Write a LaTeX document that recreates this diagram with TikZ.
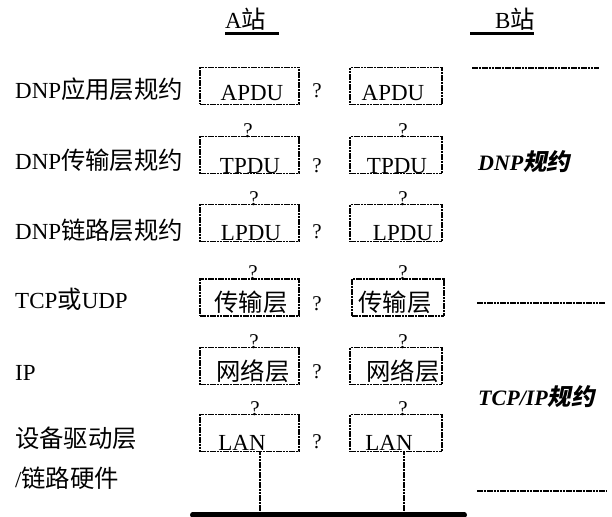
\documentclass[tikz,border=0pt]{standalone}
\usepackage{fontspec}
\setmainfont{Liberation Serif}
\newfontfamily\cjk[Scale=1.06]{Noto Sans CJK SC}
\newfontfamily\cjkbi[Scale=1.06,FakeSlant=0.2,BoldFont={* Bold}]{Noto Sans CJK SC}
\begin{document}
\begin{tikzpicture}[x=1pt,y=-1pt,
  txt/.style={font=\fontsize{23}{26}\selectfont, inner sep=0pt, anchor=base},
  lbl/.style={txt, anchor=base west},
  qm/.style={font=\fontsize{21}{24}\selectfont, inner sep=0pt, anchor=base},
  pbox/.style={draw=black, line width=1.5pt, dash pattern=on 2.6pt off 0.7pt, inner sep=0pt},
  boxA/.style={pbox, minimum width=99pt, minimum height=37pt},
  boxB/.style={pbox, minimum width=92pt, minimum height=37pt},
  conn/.style={draw=black, line width=1.5pt, dash pattern=on 2.6pt off 0.7pt},
  sep/.style={draw=black, line width=1.4pt, dash pattern=on 2.6pt off 0.7pt},
  ul/.style={line width=3pt},
  proto/.style={font=\fontsize{22}{26}\selectfont\bfseries\itshape, inner sep=0pt, anchor=base west}
]
\useasboundingbox (0,0) rectangle (612,516);

% headers
\node[lbl] (hA) at (225,29) {A{\cjk 站}};
\node[lbl] (hB) at (495,29) {B{\cjk 站}};
\coordinate (uA1) at (225,34); \coordinate (uA2) at (279,34);
\coordinate (uB1) at (470,34); \coordinate (uB2) at (534,34);
\draw[ul] (uA1) -- (uA2);
\draw[ul] (uB1) -- (uB2);

% left labels
\node[lbl] (l1) at (15,99) {DNP{\cjk 应用层规约}};
\node[lbl] (l2) at (15,169) {DNP{\cjk 传输层规约}};
\node[lbl] (l3) at (15,239) {DNP{\cjk 链路层规约}};
\node[lbl] (l4) at (15,308) {TCP{\cjk 或}UDP};
\node[lbl] (l5) at (15,380) {IP};
\node[lbl] (l6) at (15,447) {\cjk 设备驱动层};
\node[lbl] (l7) at (15,487) {/{\cjk 链路硬件}};

% boxes column A
\node[boxA] (a1) at (249.5,86) {};
\node[boxA] (a2) at (249.5,155) {};
\node[boxA] (a3) at (249.5,223) {};
\node[boxA] (a4) at (249.5,297.5) {};
\node[boxA] (a5) at (249.5,366) {};
\node[boxA] (a6) at (249.5,433) {};
% boxes column B
\node[boxB] (b1) at (396,86) {};
\node[boxB] (b2) at (396,155) {};
\node[boxB] (b3) at (396,223) {};
\node[boxB] (b4) at (398,297.5) {};
\node[boxB] (b5) at (396,366) {};
\node[boxB] (b6) at (396,433) {};

% box texts
\node[txt] (ta1) at (252,100) {APDU};
\node[txt] (tb1) at (393,100) {APDU};
\node[txt] (ta2) at (250,173) {TPDU};
\node[txt] (tb2) at (397,173) {TPDU};
\node[txt] (ta3) at (251,240) {LPDU};
\node[txt] (tb3) at (403,240) {LPDU};
\node[txt] (ta4) at (251,311) {\cjk 传输层};
\node[txt] (tb4) at (395,311) {\cjk 传输层};
\node[txt] (ta5) at (253,380) {\cjk 网络层};
\node[txt] (tb5) at (403,380) {\cjk 网络层};
\node[txt] (ta6) at (242,450) {LAN};
\node[txt] (tb6) at (389,450) {LAN};

% question marks between columns
\node[qm] (q1) at (317,98) {?};
\node[qm] (q2) at (317,172) {?};
\node[qm] (q3) at (317,238) {?};
\node[qm] (q4) at (317,310) {?};
\node[qm] (q5) at (317,378) {?};
\node[qm] (q6) at (317,448) {?};

% question marks above boxes
\node[qm] (qa2) at (248,137) {?};
\node[qm] (qb2) at (403,137) {?};
\node[qm] (qa3) at (254,205) {?};
\node[qm] (qb3) at (403,205) {?};
\node[qm] (qa4) at (253,279) {?};
\node[qm] (qb4) at (403,279) {?};
\node[qm] (qa5) at (254,348) {?};
\node[qm] (qb5) at (403,348) {?};
\node[qm] (qa6) at (255,415) {?};
\node[qm] (qb6) at (403,415) {?};

% bus and drops
\coordinate (busL) at (193,514.5);
\coordinate (busR) at (464,514.5);
\draw[line width=6pt, line cap=round] (busL) -- (busR);
\coordinate (busA) at (260,512);
\coordinate (busB) at (404,512);
\draw[conn] (a6.south -| busA) -- (busA);
\draw[conn] (b6.south -| busB) -- (busB);

% right side separators and protocol labels
\coordinate (s1a) at (472,68); \coordinate (s1b) at (599,68);
\coordinate (s2a) at (477,303); \coordinate (s2b) at (605,303);
\coordinate (s3a) at (477,491); \coordinate (s3b) at (606,491);
\draw[sep] (s1a) -- (s1b);
\draw[sep] (s2a) -- (s2b);
\draw[sep] (s3a) -- (s3b);
\node[proto] (pDNP) at (478,170) {DNP{\cjkbi\bfseries 规约}};
\node[proto] (pTCP) at (478,405) {TCP/IP{\cjkbi\bfseries 规约}};
\end{tikzpicture}
\end{document}
